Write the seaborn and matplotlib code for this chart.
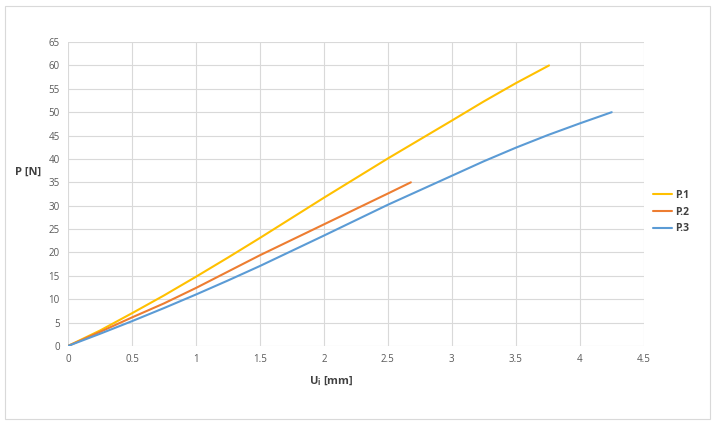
import pandas as pd
import matplotlib.pyplot as plt
import seaborn as sns
from matplotlib.patches import Rectangle

# values
p1_x = [0, 0.25, 0.5, 0.75, 1, 1.25, 1.5, 2, 2.5, 3, 3.25, 3.5, 3.76]
p1_y = [0, 3.3, 7.0, 10.8, 14.8, 18.9, 23.1, 31.7, 40.1, 48.2, 52.3, 56.2, 60]
p2_x = [0, 0.25, 0.5, 0.75, 1, 1.25, 1.5, 2, 2.5, 2.68]
p2_y = [0, 3.0, 6.1, 9.1, 12.4, 15.9, 19.4, 26.0, 32.6, 35]
p3_x = [0, 0.25, 0.5, 0.75, 1, 1.25, 1.5, 2, 2.5, 3, 3.25, 3.5, 3.75, 4, 4.25]
p3_y = [0, 2.6, 5.3, 8.1, 11.0, 14.0, 17.1, 23.6, 30.2, 36.4, 39.5, 42.4, 45.1, 47.6, 50]
series_names = ['P.1', 'P.2', 'P.3']
colors = ['#FFC000', '#ED7D31', '#5B9BD5']

df = pd.concat([
    pd.DataFrame({'U': x, 'P': y, 'serie': name})
    for x, y, name in zip([p1_x, p2_x, p3_x], [p1_y, p2_y, p3_y], series_names)
])

sns.set_theme(style='whitegrid')
plt.rcParams['font.family'] = ['Open Sans', 'DejaVu Sans']

fig = plt.figure(figsize=(7.16, 4.25), dpi=100)
ax = fig.add_axes([0.095, 0.186, 0.804, 0.715])

sns.lineplot(data=df, x='U', y='P', hue='serie', palette=colors,
             sort=False, estimator=None, linewidth=1.5, ax=ax)

ax.set_xlim(0, 4.5)
ax.set_ylim(0, 65)
ax.set_xticks([0, 0.5, 1, 1.5, 2, 2.5, 3, 3.5, 4, 4.5])
ax.set_xticklabels(['0', '0.5', '1', '1.5', '2', '2.5', '3', '3.5', '4', '4.5'])
ax.set_yticks(range(0, 70, 5))
ax.grid(True, color='#D9D9D9', linewidth=0.8)
for s in ax.spines.values():
    s.set_visible(False)
ax.tick_params(axis='both', labelsize=7, colors='#595959', length=0, pad=6)
ax.set_xlabel('')
ax.set_ylabel('')

fig.text(28 / 716, 1 - 172 / 425, 'P [N]', fontsize=8, fontweight='bold',
         color='#404040', ha='center', va='center')
fig.text(331 / 716, 1 - 381 / 425, r'U$_\mathregular{i}$ [mm]', fontsize=8,
         fontweight='bold', color='#404040', ha='center', va='center')

handles, labels = ax.get_legend_handles_labels()
leg = ax.legend(handles, labels, loc='center left', bbox_to_anchor=(1.0, 0.44),
                frameon=False, fontsize=7.5, handlelength=1.8, handletextpad=0.3,
                labelspacing=0.55)
for t in leg.get_texts():
    t.set_fontweight('bold')
    t.set_color('#404040')

fig.patches.append(Rectangle((5 / 716, 1 - 419 / 425), 705 / 716, 413 / 425,
                             transform=fig.transFigure, fill=False,
                             edgecolor='#D9D9D9', linewidth=0.8))

fig.savefig('out.png', dpi=100)
